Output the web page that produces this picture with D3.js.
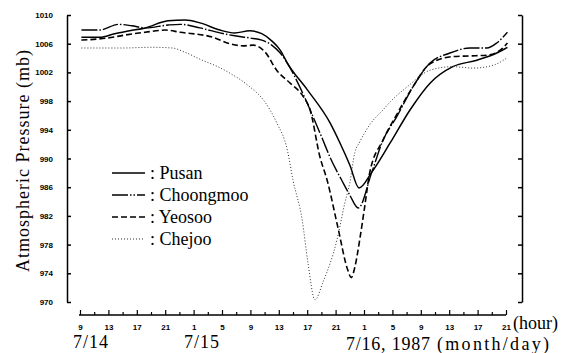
<!DOCTYPE html>
<html>
<head>
<meta charset="utf-8">
<script src="https://cdn.jsdelivr.net/npm/d3@7"></script>
<style>
  body { margin: 0; background: #fff; }
  svg { display: block; }
  .serif { font-family: "Liberation Serif", "DejaVu Serif", serif; fill: #000; }
  .tick text { font-family: "Liberation Sans", Arial, sans-serif; font-weight: bold; font-size: 8px; fill: #000; }
</style>
</head>
<body>
<script>
// hours counted from 7/14 00h, pressure in mb
let pusan = [[9.2,1006.9],[11.8,1006.9],[13.9,1007.4],[16.0,1007.8],[18.2,1008.2],[21.4,1009.2],[23.8,1009.3],
  [25.9,1008.9],[28.7,1007.9],[30.8,1007.5],[32.9,1007.8],[34.6,1007.4],[36.0,1006.4],[37.2,1005.1],[38.2,1003.3],
  [41.0,999.6],[44.2,995.0],[45.6,992.2],[47.0,989.1],[48.3,985.9],[50.1,988.1],[52.7,992.2],[55.5,996.8],
  [58.3,1000.5],[61.5,1002.8],[64.9,1003.7],[67.7,1004.7],[69.2,1005.5]]
let choongmoo = [[9.2,1007.9],[11.8,1007.9],[14.4,1008.7],[16.3,1008.5],[18.2,1008.2],[21.4,1008.6],[23.1,1008.7],
  [25.9,1008.2],[28.7,1007.5],[30.8,1007.1],[32.9,1006.8],[34.6,1006.5],[36.0,1005.8],[37.2,1004.7],[38.2,1003.3],
  [39.8,1000.3],[41.4,996.8],[43.2,992.6],[44.2,990.2],[45.9,986.9],[47.0,984.9],[48.2,983.1],[50.1,988.1],
  [51.7,992.6],[53.6,995.8],[55.9,1000.0],[58.3,1003.3],[61.1,1004.7],[63.9,1005.4],[66.3,1005.4],[67.7,1006.1],[69.2,1007.6]]
let yeosoo = [[9.2,1006.5],[12.9,1006.8],[15.3,1007.2],[18.2,1007.6],[21.0,1007.9],[23.1,1007.6],[27.7,1006.9],
  [30.1,1006.0],[32.0,1005.7],[33.4,1005.8],[35.1,1004.8],[36.7,1002.3],[38.6,1000.5],[40.4,998.7],[41.4,996.8],
  [42.8,990.2],[43.8,987.0],[45.3,980.5],[46.7,974.5],[47.2,973.4],[47.7,974.8],[48.4,978.7],[49.1,983.3],
  [49.8,988.0],[51.7,992.6],[53.6,996.1],[55.9,1000.0],[58.3,1003.2],[61.5,1004.2],[63.9,1004.3],[66.3,1004.4],
  [68.2,1005.1],[69.2,1006.1]]
let chejoo = [[9.2,1005.4],[14.9,1005.4],[19.1,1005.5],[22.0,1005.4],[23.8,1004.8],[26.2,1003.7],[28.4,1002.8],
  [30.1,1001.9],[32.9,1000.0],[34.8,998.2],[36.7,995.0],[38.2,991.2],[39.0,987.0],[40.3,981.4],[41.1,975.5],
  [42.1,970.3],[43.2,972.7],[45.2,978.7],[46.3,983.8],[47.0,986.6],[47.7,990.8],[48.4,992.3],[49.8,994.7],
  [51.7,996.8],[52.7,997.9],[55.1,1000.0],[58.3,1002.3],[61.5,1002.8],[64.4,1002.6],[67.2,1003.0],[69.1,1004.0]]

let seriesNames = ['Pusan', 'Choongmoo', 'Yeosoo', 'Chejoo']
let yTicks = [970, 974, 978, 982, 986, 990, 994, 998, 1002, 1006, 1010]
let hourTicks = d3.range(9, 70, 2)
let dayLabels = ['7/14', '7/15', '7/16, 1987']

let width = 566
let height = 353

let svg = d3.select('body').append('svg')
  .attr('width', width)
  .attr('height', height)

let x = d3.scaleLinear().domain([9, 69]).range([80, 506])
let y = d3.scaleLinear().domain([970, 1010]).range([302, 15])

// left axis, ticks pointing inward
let yAxis = d3.axisLeft(y).tickValues(yTicks).tickSizeInner(-4).tickSizeOuter(0).tickPadding(14)
  .tickFormat(d3.format('d'))
svg.append('g')
  .attr('transform', 'translate(67,0)')
  .call(yAxis)
  .call(g => g.selectAll('path, line').attr('stroke', '#000').attr('stroke-width', 1.5))

// right axis, no labels
let yAxisR = d3.axisRight(y).tickValues(yTicks).tickSizeInner(-4).tickSizeOuter(0).tickFormat('')
svg.append('g')
  .attr('transform', 'translate(522,0)')
  .call(yAxisR)
  .call(g => g.selectAll('path, line').attr('stroke', '#000').attr('stroke-width', 1.5))

// bottom axis
let isMajor = d => (d - 9) % 4 === 0
let xAxis = d3.axisBottom(x).tickValues(hourTicks).tickSizeOuter(0)
  .tickFormat(d => isMajor(d) ? (d % 24) : '')
let gx = svg.append('g')
  .attr('transform', 'translate(0,315)')
  .call(xAxis)
gx.select('.domain').attr('d', 'M' + (x(9) - 1) + ',0H' + x(69)).attr('stroke', '#000').attr('stroke-width', 1.5)
gx.selectAll('.tick line').attr('y2', d => isMajor(d) ? -5 : -3).attr('stroke', '#000').attr('stroke-width', 1.2)
gx.selectAll('.tick text').attr('y', 15).attr('dy', 0)

// hour / date labels
svg.append('text').attr('class', 'serif')
  .attr('x', 513).attr('y', 329)
  .style('font-size', '18px')
  .text('(hour)')

let dayX = [73, 184, 346]
svg.selectAll('text.day')
  .data(dayLabels)
  .enter()
  .append('text')
  .attr('class', 'serif day')
  .attr('x', (d, i) => dayX[i])
  .attr('y', (d, i) => i < 2 ? 348 : 350)
  .attr('textLength', (d, i) => i < 2 ? 35 : 84)
  .attr('lengthAdjust', 'spacing')
  .style('font-size', '18px')
  .text(d => d)

svg.append('text').attr('class', 'serif')
  .attr('x', 437).attr('y', 350)
  .attr('textLength', 112)
  .attr('lengthAdjust', 'spacing')
  .style('font-size', '18px')
  .text('(month/day)')

// y title
svg.append('text').attr('class', 'serif')
  .attr('transform', 'translate(29,161) rotate(-90)')
  .attr('text-anchor', 'middle')
  .attr('textLength', 222)
  .attr('lengthAdjust', 'spacing')
  .style('font-size', '18px')
  .text('Atmospheric Pressure (mb)')

// series lines
let styles = [
  { data: pusan, dash: null, w: 1.5, color: '#000' },
  { data: choongmoo, dash: '16,2,1.5,2', w: 1.4, color: '#000' },
  { data: yeosoo, dash: '6,3', w: 1.6, color: '#000' },
  { data: chejoo, dash: '1,2', w: 1, color: '#333' }
]

let line = d3.line()
  .x(d => x(d[0]))
  .y(d => y(d[1]))
  .curve(d3.curveMonotoneX)

svg.selectAll('path.series')
  .data(styles)
  .enter()
  .append('path')
  .attr('class', 'series')
  .attr('d', d => line(d.data))
  .attr('fill', 'none')
  .attr('stroke', d => d.color)
  .attr('stroke-width', d => d.w)
  .attr('stroke-dasharray', d => d.dash)

// legend
let legendY = [173, 195, 217, 239]
let lg = svg.append('g')
lg.selectAll('line')
  .data(styles)
  .enter()
  .append('line')
  .attr('x1', 112).attr('x2', 145)
  .attr('y1', (d, i) => legendY[i]).attr('y2', (d, i) => legendY[i])
  .attr('stroke', d => d.color)
  .attr('stroke-width', d => d.w)
  .attr('stroke-dasharray', (d, i) => i === 1 ? '16,2,1.5,2,1.5,2' : d.dash)

lg.selectAll('text')
  .data(seriesNames)
  .enter()
  .append('text')
  .attr('class', 'serif')
  .attr('x', 150)
  .attr('y', (d, i) => legendY[i] + 6)
  .style('font-size', '18px')
  .text(d => ': ' + d)
</script>
</body>
</html>
